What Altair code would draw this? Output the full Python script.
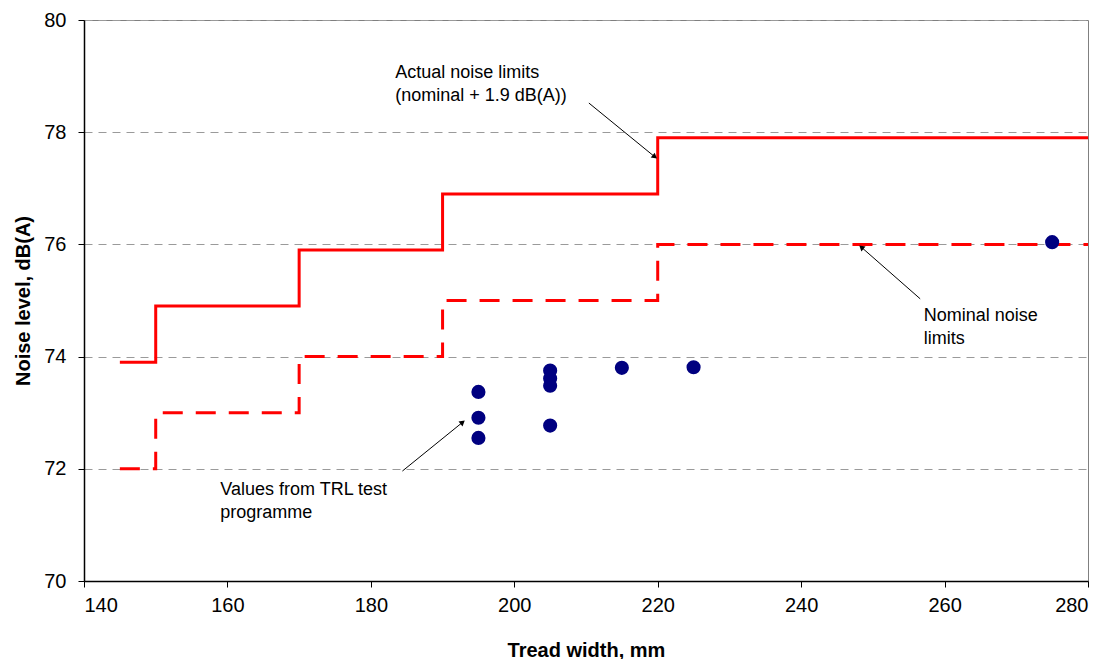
import altair as alt
import pandas as pd

# Step limits (x = tread width mm, y = dB(A))
step_x = [145, 150, 170, 190, 220, 280]
actual_y = [73.9, 74.9, 75.9, 76.9, 77.9, 77.9]
nominal_y = [72.0, 73.0, 74.0, 75.0, 76.0, 76.0]

# TRL test values
pts_x = [195, 195, 195, 205, 205, 205, 205, 215, 225, 275]
pts_y = [73.37, 72.91, 72.55, 73.75, 73.61, 73.48, 72.77, 73.80, 73.81, 76.04]

# Annotations
ann_text = ["Actual noise limits\n(nominal + 1.9 dB(A))",
            "Nominal noise\nlimits",
            "Values from TRL test\nprogramme"]
ann_x = [183.4, 257.1, 159.0]
ann_y = [78.97, 74.64, 71.53]

arrow_x = [210.4, 256.6, 184.4]
arrow_y = [78.52, 75.03, 71.96]
arrow_x2 = [219.6, 248.4, 192.8]
arrow_y2 = [77.56, 75.95, 72.83]
arrow_angle = [129, 311, 51]

steps = pd.DataFrame({"x": step_x + step_x,
                      "y": actual_y + nominal_y,
                      "s": ["actual"] * len(step_x) + ["nominal"] * len(step_x)})
pts = pd.DataFrame({"x": pts_x, "y": pts_y})
ann = pd.DataFrame({"t": ann_text, "x": ann_x, "y": ann_y})
arr = pd.DataFrame({"x": arrow_x, "y": arrow_y, "x2": arrow_x2, "y2": arrow_y2, "a": arrow_angle})

xs = alt.Scale(domain=[140, 280], nice=False, zero=False)
ys = alt.Scale(domain=[70, 80], nice=False, zero=False)

xax = alt.Axis(values=list(range(140, 281, 20)), format="d", title="Tread width, mm", grid=False,
               tickSize=6, labelPadding=8, titlePadding=25)
yax = alt.Axis(values=list(range(70, 81, 2)), format="d", title="Noise level, dB(A)", grid=True,
               gridDash=[8, 6], gridColor="#9a9a9a", tickSize=6, labelPadding=12,
               titlePadding=10)

actual = alt.Chart(steps).transform_filter(alt.datum.s == "actual").mark_line(
    interpolate="step-after", color="#ff0000", strokeWidth=3
).encode(x=alt.X("x:Q", scale=xs, axis=xax), y=alt.Y("y:Q", scale=ys, axis=yax))

nominal = alt.Chart(steps).transform_filter(alt.datum.s == "nominal").mark_line(
    interpolate="step-after", color="#ff0000", strokeWidth=3, strokeDash=[20, 13]
).encode(x=alt.X("x:Q", scale=xs), y=alt.Y("y:Q", scale=ys))

points = alt.Chart(pts).mark_point(filled=True, color="#000080", size=200, opacity=1).encode(
    x=alt.X("x:Q", scale=xs), y=alt.Y("y:Q", scale=ys))

rules = alt.Chart(arr).mark_rule(color="black", strokeWidth=1).encode(
    x=alt.X("x:Q", scale=xs), y=alt.Y("y:Q", scale=ys), x2="x2:Q", y2="y2:Q")

heads = alt.Chart(arr).mark_point(shape="triangle-up", filled=True, color="black", size=40,
                                  opacity=1).encode(
    x=alt.X("x2:Q", scale=xs), y=alt.Y("y2:Q", scale=ys), angle=alt.Angle("a:Q", scale=None))

texts = alt.Chart(ann).mark_text(align="left", baseline="alphabetic", fontSize=18,
                                 lineBreak="\n", lineHeight=23, color="black",
                                 font="Liberation Sans").encode(
    x=alt.X("x:Q", scale=xs), y=alt.Y("y:Q", scale=ys), text="t:N")

chart = alt.layer(actual, nominal, points, rules, heads, texts).properties(
    width=1004, height=561,
    autosize=alt.AutoSizeParams(type="none"),
    padding={"left": 76, "top": 12, "right": 16, "bottom": 78},
).configure_view(stroke="#808080", strokeWidth=1).configure_axis(
    labelFont="Liberation Sans", titleFont="Liberation Sans", labelFontSize=20,
    titleFontSize=20, titleFontWeight="bold", labelColor="black", titleColor="black",
    domainColor="black", tickColor="black", domainWidth=1.5
)

chart.save("out.html", embed_options={"renderer": "svg", "actions": False})
